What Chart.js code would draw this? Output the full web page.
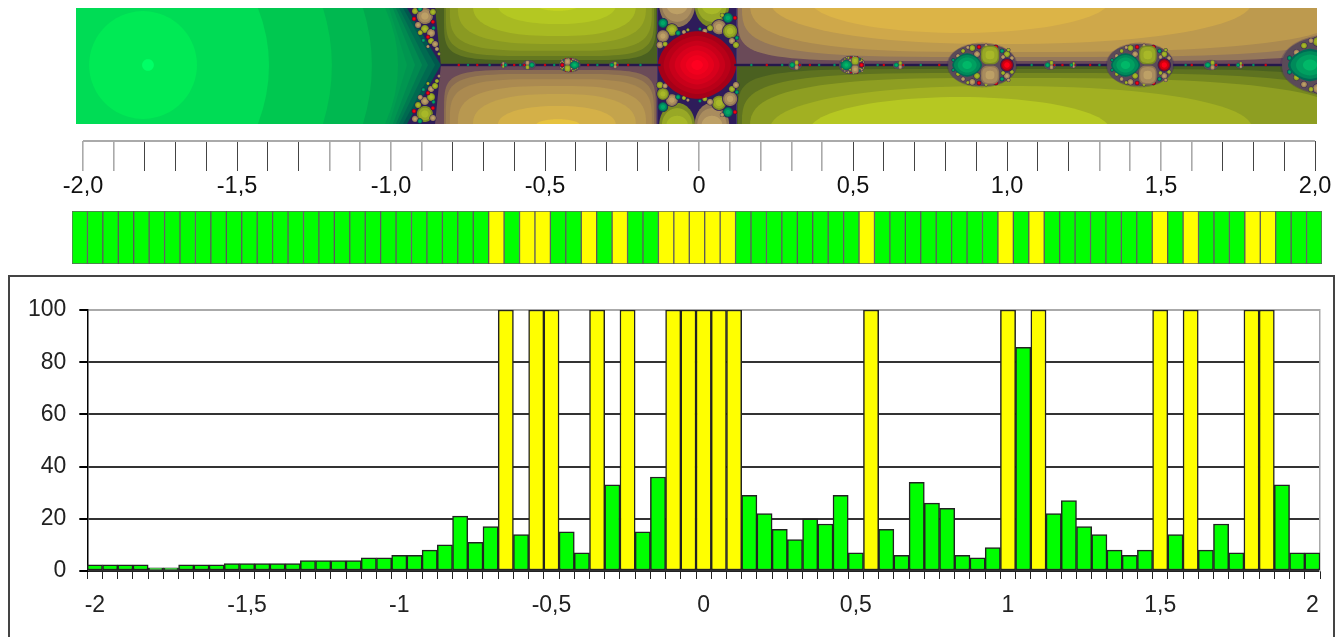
<!DOCTYPE html>
<html>
<head>
<meta charset="utf-8">
<script src="https://cdn.jsdelivr.net/npm/chart.js@4"></script>
<style>
  html, body { margin: 0; width: 1344px; height: 637px; overflow: hidden; background: #fff; }
  canvas { position: absolute; display: block; }
  #frame { position: absolute; left: 8px; top: 275px; width: 1323px; height: 420px; border: 2px solid #444; }
</style>
</head>
<body>
<div id="frame"></div>
<canvas id="fractal" width="1241" height="116" style="left:76px;top:8px"></canvas>
<canvas id="ruler" width="1344" height="75" style="left:0;top:136px"></canvas>
<canvas id="strip" width="1250" height="53" style="left:72px;top:211px"></canvas>
<canvas id="bars" width="1344" height="367" style="left:0;top:270px"></canvas>
<script>
// histogram data
const categories = [-2, -1.95, -1.9, -1.85, -1.8, -1.75, -1.7, -1.65, -1.6, -1.55, -1.5, -1.45, -1.4, -1.35, -1.3, -1.25, -1.2, -1.15, -1.1, -1.05,
  -1, -0.95, -0.9, -0.85, -0.8, -0.75, -0.7, -0.65, -0.6, -0.55, -0.5, -0.45, -0.4, -0.35, -0.3, -0.25, -0.2, -0.15, -0.1, -0.05,
  0, 0.05, 0.1, 0.15, 0.2, 0.25, 0.3, 0.35, 0.4, 0.45, 0.5, 0.55, 0.6, 0.65, 0.7, 0.75, 0.8, 0.85, 0.9, 0.95,
  1, 1.05, 1.1, 1.15, 1.2, 1.25, 1.3, 1.35, 1.4, 1.45, 1.5, 1.55, 1.6, 1.65, 1.7, 1.75, 1.8, 1.85, 1.9, 1.95, 2];
const barValues = [2.4, 2.4, 2.4, 2.4, 1.2, 1.2, 2.4, 2.4, 2.4, 2.8, 2.8, 2.8, 2.8, 2.8, 4, 4, 4, 4, 5, 5,
  6, 6, 8, 10, 21, 11, 17, 100, 14, 100, 100, 15, 7, 100, 33, 100, 15, 36, 100, 100,
  100, 100, 100, 29, 22, 16, 12, 20, 18, 29, 7, 100, 16, 6, 34, 26, 24, 6, 5, 9,
  100, 85.7, 100, 22, 27, 17, 14, 8, 6, 8, 100, 14, 100, 8, 18, 7, 100, 100, 33, 7, 7];
const barTickLabels = ['-2', '-1,5', '-1', '-0,5', '0', '0,5', '1', '1,5', '2'];
const yTicks = [0, 20, 40, 60, 80, 100];
const rulerLabels = ['-2,0', '-1,5', '-1,0', '-0,5', '0', '0,5', '1,0', '1,5', '2,0'];
const rulerLightTicks = [-20, -19, -12, -11, -10, -9, 0, 1, 2, 3, 4, 13, 14, 15, 16];

const cellColors = barValues.map(v => v >= 100 ? '#ffff00' : '#00ff00');
const labelFont = 'Arial, "Liberation Sans", sans-serif';

// fractal picture, everything in plane units (x, y up)
const planeX = [-2.0227, 2.0065];
const planeY = [-0.1916, 0.1851];

const oliveLeft = ['#4a6020', '#647820', '#7a8a20', '#8a9a22', '#9aa822', '#a8ba22', '#b4c822', '#c4d420'];
const goldLeft = ['#6a4a58', '#8a6c52', '#9c7e50', '#ab8a50', '#b89850', '#c4a44c', '#d4b048', '#e6c23e'];
const oliveRight = ['#4a6020', '#5e7220', '#76881f', '#8e9e22', '#a2b022', '#b6c822'];
const goldRight = ['#6a4a58', '#94775a', '#ab8a50', '#bd9a4e', '#cfa84a', '#dcb447'];
// rxLeft, rxRight, ry, squareness
const leftBands = [[0.370, 0.318, 0.179, 6], [0.364, 0.312, 0.166, 5], [0.351, 0.305, 0.149, 4], [0.325, 0.286, 0.127, 3], [0.276, 0.253, 0.101, 2.5], [0.195, 0.188, 0.062, 2.2], [0.071, 0.071, 0.019, 2]];
// cx, rxLeft, rxRight, ry, squareness
const rightBands = [[0.977, 0.851, 1.14, 0.198, 6], [0.977, 0.838, 1.165, 0.185, 4], [0.977, 0.812, 1.137, 0.169, 3], [0.977, 0.747, 0.82, 0.143, 2.2], [0.847, 0.487, 0.487, 0.107, 2]];

// apex x, x at the top edge, colour
const greenEdges = [[-0.838, -0.948, '#00584e'], [-0.857, -0.961, '#006a50'], [-0.880, -0.974, '#007a50'], [-0.899, -0.984, '#008a50'],
  [-0.922, -0.994, '#009650'], [-0.948, -1.006, '#009e50'], [-0.977, -1.019, '#00a84e'], [-1.062, -1.091, '#00b850'], [-1.192, -1.221, '#00c850'], [-1.396, -1.432, '#00dc55']];

const beadColors = {
  olive: ['#7a8a24', '#98a826', '#a8b828'],
  tan: ['#8f7656', '#a98c5e', '#bda066'],
  teal: ['#006a55', '#008f60', '#00a868'],
  red: ['#8a0a20', '#d00010', '#ff0018']
};
const swapKind = { olive: 'tan', tan: 'olive', teal: 'teal', red: 'red' };

// x, y, r, kind: upper half only, lower half is mirrored with olive and tan swapped
const centreBeads = [[-0.117, 0.136, 0.015, 'teal'], [-0.088, 0.114, 0.019, 'olive'], [-0.117, 0.094, 0.019, 'tan'], [-0.127, 0.065, 0.011, 'tan'],
  [-0.110, 0.068, 0.008, 'olive'], [-0.068, 0.104, 0.008, 'teal'], [-0.049, 0.107, 0.0065, 'tan'], [-0.036, 0.114, 0.005, 'olive'],
  [0.094, 0.153, 0.016, 'teal'], [0.065, 0.123, 0.023, 'tan'], [0.101, 0.110, 0.023, 'olive'], [0.107, 0.078, 0.01, 'tan'], [0.120, 0.065, 0.01, 'olive'],
  [0.123, 0.088, 0.0065, 'teal'], [0.036, 0.120, 0.01, 'olive'], [0.019, 0.110, 0.008, 'tan'], [0.003, 0.117, 0.005, 'teal'], [0.075, 0.162, 0.0065, 'olive'], [0.117, 0.153, 0.0065, 'red']];
const chainBeads = [[-0.890, 0.159, 0.026, 'tan'], [-0.922, 0.175, 0.01, 'olive'], [-0.890, 0.117, 0.013, 'olive'], [-0.870, 0.104, 0.013, 'tan'],
  [-0.912, 0.130, 0.01, 'tan'], [-0.870, 0.078, 0.01, 'olive'], [-0.857, 0.068, 0.01, 'tan'], [-0.851, 0.052, 0.0065, 'tan'], [-0.844, 0.036, 0.005, 'olive'],
  [-0.906, 0.182, 0.008, 'teal'], [-0.864, 0.140, 0.0065, 'red'], [-0.864, 0.172, 0.01, 'olive'], [-0.880, 0.091, 0.0065, 'red'],
  [-0.905, 0.105, 0.008, 'olive'], [-0.925, 0.150, 0.007, 'red'], [-0.895, 0.080, 0.006, 'teal'], [-0.880, 0.060, 0.005, 'tan'], [-0.862, 0.120, 0.006, 'teal']];
// lobes beside the red disc: x, r, kind
const centreLobes = [[-0.071, 0.058, 'tan'], [0.042, 0.056, 'olive']];
// cx, rx, ry, flipped
const clusters = [[0.919, 0.110, 0.068, false], [1.432, 0.107, 0.068, false], [2.055, 0.162, 0.094, false], [0.497, 0.042, 0.029, false],
  [-0.419, 0.034, 0.023, true], [-0.552, 0.021, 0.015, true], [-0.633, 0.011, 0.010, true], [-0.276, 0.016, 0.011, false], [0.312, 0.021, 0.016, false],
  [0.649, 0.019, 0.013, false], [1.140, 0.019, 0.015, false], [1.214, 0.011, 0.010, false], [1.662, 0.023, 0.016, false], [1.756, 0.013, 0.011, false]];
// beads of one cluster in cluster units: dx, dy, r, kind
const clusterBeads = [[-0.29, 0.81, 0.09, 'olive'], [-0.09, 0.86, 0.06, 'red'], [-0.15, 0.52, 0.09, 'tan'], [-0.56, 0.67, 0.06, 'olive'], [-0.71, 0.43, 0.06, 'tan'],
  [-0.85, 0.24, 0.045, 'teal'], [0.59, 0.67, 0.06, 'teal'], [0.735, 0.52, 0.09, 'olive'], [0.62, 0.38, 0.06, 'tan'], [0.88, 0.33, 0.06, 'tan'], [0.41, 0.86, 0.06, 'red'],
  [0.12, 0.93, 0.05, 'tan'], [-0.42, 0.84, 0.05, 'tan'], [0.78, 0.72, 0.05, 'olive']];
const axisSpecks = [[-0.78, 'red'], [-0.75, 'teal'], [-0.72, 'red'], [-0.68, 'teal'], [-0.60, 'red'], [-0.58, 'teal'], [-0.50, 'red'], [-0.47, 'teal'], [-0.36, 'red'], [-0.33, 'teal'], [-0.23, 'red'], [-0.19, 'teal'],
  [0.17, 'teal'], [0.22, 'red'], [0.27, 'teal'], [0.36, 'red'], [0.39, 'teal'], [0.44, 'teal'], [0.58, 'teal'], [0.60, 'red'], [0.72, 'teal'], [0.78, 'red'],
  [1.08, 'teal'], [1.18, 'red'], [1.27, 'red'], [1.30, 'teal'], [1.58, 'teal'], [1.60, 'red'], [1.72, 'red'], [1.80, 'teal'], [1.84, 'red']];
const darkPurple = '#2e1c5a';
const redDisc = ['#a50018', '#b80018', '#c8001a', '#d8001c', '#e6001c', '#f2001e', '#ff0020'];

// top line of the scale ruler
const rulerLine = [{ x: -2, y: 1 }, { x: 2, y: 1 }];

const fractalPainter = {
  id: 'fractalPainter',
  beforeDraw(chart) {
    const ctx = chart.ctx;
    const xs = chart.scales.x, ys = chart.scales.y;
    const X = v => xs.getPixelForValue(v), Y = v => ys.getPixelForValue(v);
    const U = (xs.right - xs.left) / (xs.max - xs.min);

    function blob(cx, cy, rxL, rxR, ry, n, fill) {
      ctx.beginPath();
      for (let i = 0; i < 96; i++) {
        const t = i / 96 * Math.PI * 2, c = Math.cos(t), s = Math.sin(t);
        const dx = Math.sign(c) * Math.pow(Math.abs(c), 2 / n) * (c >= 0 ? rxR : rxL);
        const dy = Math.sign(s) * Math.pow(Math.abs(s), 2 / n) * ry;
        ctx.lineTo(X(cx + dx), Y(cy + dy));
      }
      ctx.closePath();
      ctx.fillStyle = fill;
      ctx.fill();
    }
    function disc(x, y, r, fill) { blob(x, y, r, r, r, 2, fill); }
    function rect(x0, x1, y0, y1, fill) {
      ctx.fillStyle = fill;
      ctx.fillRect(X(x0), Y(y1), X(x1) - X(x0), Y(y0) - Y(y1));
    }
    function clipTo(x0, x1, y0, y1, draw) {
      ctx.save();
      ctx.beginPath();
      ctx.rect(X(x0), Y(y1), X(x1) - X(x0), Y(y0) - Y(y1));
      ctx.clip();
      draw();
      ctx.restore();
    }
    function bead(x, y, r, kind) {
      const c = beadColors[kind];
      disc(x, y, r * 1.12, darkPurple);
      disc(x, y, r, c[0]);
      disc(x, y, r * 0.78, c[1]);
      disc(x, y, r * 0.45, c[2]);
    }
    function mirrored(list) {
      list.forEach(b => {
        bead(b[0], b[1], b[2], b[3]);
        bead(b[0], -b[1], b[2], swapKind[b[3]]);
      });
    }

    // four big quadrants
    rect(-0.87, -0.136, 0, planeY[1], oliveLeft[0]);
    rect(-0.87, -0.136, planeY[0], 0, goldLeft[0]);
    clipTo(-0.87, -0.136, 0, planeY[1], () => leftBands.forEach((b, i) => blob(-0.458, 0.195, b[0], b[1], b[2], b[3], oliveLeft[i + 1])));
    clipTo(-0.87, -0.136, planeY[0], 0, () => leftBands.forEach((b, i) => blob(-0.458, -0.195, b[0], b[1], b[2], b[3], goldLeft[i + 1])));
    rect(0.123, planeX[1], 0, planeY[1], goldRight[0]);
    rect(0.123, planeX[1], planeY[0], 0, oliveRight[0]);
    clipTo(0.123, planeX[1], 0, planeY[1], () => rightBands.forEach((b, i) => blob(b[0], 0.211, b[1], b[2], b[3], b[4], goldRight[i + 1])));
    clipTo(0.123, planeX[1], planeY[0], 0, () => rightBands.forEach((b, i) => blob(b[0], -0.211, b[1], b[2], b[3], b[4], oliveRight[i + 1])));

    // wedge behind the bead chain
    ctx.fillStyle = darkPurple;
    ctx.beginPath();
    ctx.moveTo(X(-0.971), Y(planeY[1]));
    ctx.lineTo(X(-0.857), Y(planeY[1]));
    ctx.lineTo(X(-0.838), Y(0));
    ctx.lineTo(X(-0.857), Y(planeY[0]));
    ctx.lineTo(X(-0.971), Y(planeY[0]));
    ctx.closePath();
    ctx.fill();

    // green basin on the left
    rect(planeX[0], -1.3, planeY[0], planeY[1], '#00e055');
    greenEdges.forEach((e, i) => {
      ctx.fillStyle = e[2];
      ctx.beginPath();
      ctx.moveTo(X(planeX[0]), Y(planeY[1]));
      ctx.lineTo(X(e[1]), Y(planeY[1]));
      if (i < 6) ctx.lineTo(X(e[0]), Y(0));
      else ctx.quadraticCurveTo(X(2 * e[0] - e[1]), Y(0), X(e[1]), Y(planeY[0]));
      ctx.lineTo(X(e[1]), Y(planeY[0]));
      ctx.lineTo(X(planeX[0]), Y(planeY[0]));
      ctx.closePath();
      ctx.fill();
    });
    disc(-1.805, 0, 0.175, '#00ea55');
    disc(-1.789, 0, 0.019, '#00ff66');
    mirrored(chainBeads);

    // middle block with its lobes and the red disc
    rect(-0.136, 0.123, planeY[0], planeY[1], darkPurple);
    centreLobes.forEach(l => {
      [[l[2], 0.195], [swapKind[l[2]], -0.195]].forEach(p => {
        const c = beadColors[p[0]];
        clipTo(-0.136, 0.123, planeY[0], planeY[1], () => {
          blob(l[0], p[1], l[1], l[1], 0.072, 2, c[0]);
          blob(l[0], p[1], l[1] * 0.85, l[1] * 0.85, 0.055, 2, c[1]);
          blob(l[0], p[1], l[1] * 0.6, l[1] * 0.6, 0.03, 2, c[2]);
        });
      });
    });
    mirrored(centreBeads);
    redDisc.forEach((c, i) => {
      const f = 1 - i * 0.142;
      blob(-0.006, 0, 0.127 * f, 0.127 * f, 0.110 * f, 1.8, c);
    });

    // line along the real axis
    rect(-0.838, -0.125, -0.005, 0.005, 'rgba(46,28,90,0.45)');
    rect(0.115, planeX[1], -0.005, 0.005, 'rgba(46,28,90,0.45)');
    rect(-0.838, -0.125, -0.003, 0.003, '#24164c');
    rect(0.115, planeX[1], -0.003, 0.003, '#24164c');
    axisSpecks.forEach(s => disc(s[0], 0, 0.004, beadColors[s[1]][1]));

    // bulb clusters on the axis
    clusters.forEach(c => {
      const cx = c[0], rx = c[1], ry = c[2], dir = c[3] ? -1 : 1;
      const top = c[3] ? 'tan' : 'olive', bottom = c[3] ? 'olive' : 'tan';
      blob(cx, 0, rx * 1.04, rx * 1.04, ry * 1.07, 2, 'rgba(60,40,100,0.3)');
      blob(cx, 0, rx, rx, ry, 2.2, '#5a4a58');
      if (rx * U > 8) {
        clusterBeads.forEach(b => {
          const k = c[3] ? swapKind[b[3]] : b[3];
          bead(cx + dir * b[0] * rx, b[1] * ry, b[2] * rx, k);
          bead(cx + dir * b[0] * rx, -b[1] * ry, b[2] * rx, swapKind[k]);
        });
      }
      [[top, 1], [bottom, -1]].forEach(p => {
        const col = beadColors[p[0]];
        const bx = cx + dir * 0.235 * rx, by = p[1] * 0.48 * ry;
        blob(bx, by, rx * 0.27, rx * 0.27, ry * 0.45, 3, col[0]);
        blob(bx, by, rx * 0.23, rx * 0.23, ry * 0.38, 3, col[1]);
        blob(bx, by, rx * 0.13, rx * 0.13, ry * 0.2, 3, col[2]);
      });
      const lx = cx - dir * 0.44 * rx;
      blob(lx, 0, rx * 0.44, rx * 0.44, ry * 0.56, 1.65, '#006a55');
      blob(lx, 0, rx * 0.39, rx * 0.39, ry * 0.48, 1.75, '#008a5a');
      blob(lx, 0, rx * 0.28, rx * 0.28, ry * 0.36, 1.9, '#00a060');
      blob(lx, 0, rx * 0.14, rx * 0.14, ry * 0.19, 2, '#00b868');
      bead(cx + dir * 0.735 * rx, 0, 0.18 * rx, 'red');
    });
  }
};

new Chart(document.getElementById('fractal'), {
  type: 'scatter',
  data: { datasets: [] },
  options: {
    responsive: false,
    animation: false,
    layout: { padding: 0 },
    plugins: { legend: { display: false }, tooltip: { enabled: false } },
    scales: {
      x: { type: 'linear', display: false, min: planeX[0], max: planeX[1] },
      y: { type: 'linear', display: false, min: planeY[0], max: planeY[1] }
    }
  },
  plugins: [fractalPainter]
});

// scale ruler
new Chart(document.getElementById('ruler'), {
  type: 'line',
  data: {
    datasets: [{ data: rulerLine, borderColor: '#aaa', borderWidth: 2, pointRadius: 0, clip: false }]
  },
  options: {
    responsive: false,
    animation: false,
    layout: { padding: { left: 83, right: 29, top: 5, bottom: 0 } },
    plugins: { legend: { display: false }, tooltip: { enabled: false } },
    scales: {
      x: {
        type: 'linear', min: -2, max: 2,
        afterFit: s => { s.height = 40; },
        border: { display: false },
        grid: {
          drawTicks: false,
          color: c => rulerLightTicks.includes(Math.round(c.tick.value * 10)) ? '#aaa' : '#444',
          lineWidth: c => rulerLightTicks.includes(Math.round(c.tick.value * 10)) ? 1.6 : 1
        },
        ticks: {
          stepSize: 0.1, autoSkip: false, maxRotation: 0, padding: 1, color: '#111',
          font: { family: labelFont, size: 23.5 },
          callback: v => {
            const n = Math.round(v * 10);
            return n % 5 === 0 ? rulerLabels[(n + 20) / 5] : '';
          }
        }
      },
      y: { display: false, min: 0, max: 1 }
    }
  }
});

// colour strip, one cell per category
new Chart(document.getElementById('strip'), {
  type: 'bar',
  data: {
    labels: categories,
    datasets: [{
      data: categories.map(() => 1),
      backgroundColor: cellColors,
      borderColor: 'rgba(70,70,70,0.85)',
      borderWidth: 1,
      borderSkipped: false,
      barPercentage: 1,
      categoryPercentage: 1
    }]
  },
  options: {
    responsive: false,
    animation: false,
    layout: { padding: 0 },
    plugins: { legend: { display: false }, tooltip: { enabled: false } },
    scales: { x: { display: false }, y: { display: false, min: 0, max: 1 } }
  }
});

// histogram
new Chart(document.getElementById('bars'), {
  type: 'bar',
  data: {
    labels: categories,
    datasets: [{
      data: barValues,
      backgroundColor: cellColors,
      borderColor: '#222',
      borderWidth: 1.5,
      borderSkipped: false,
      barPercentage: 1,
      categoryPercentage: 1
    }]
  },
  options: {
    responsive: false,
    animation: false,
    layout: { padding: { left: 0, right: 24, top: 40, bottom: 0 } },
    plugins: { legend: { display: false }, tooltip: { enabled: false } },
    scales: {
      x: {
        afterFit: s => { s.height = 66; },
        border: { color: '#222', width: 1 },
        grid: { offset: true, drawOnChartArea: false, tickLength: 8, color: '#222', lineWidth: 1 },
        ticks: {
          autoSkip: false, maxRotation: 0, padding: 13, color: '#222',
          font: { family: labelFont, size: 23 },
          callback: (v, i) => i % 10 === 0 ? barTickLabels[i / 10] : ''
        }
      },
      y: {
        min: 0, max: 100,
        afterFit: s => { s.width = 87.3; },
        afterBuildTicks: s => { s.ticks = yTicks.map(v => ({ value: v })); },
        border: { color: '#000', width: 1.5 },
        grid: {
          tickLength: 8, tickColor: '#000', lineWidth: 2,
          color: c => c.tick.value === 100 ? '#aaa' : '#333'
        },
        ticks: { padding: 13, color: '#222', font: { family: labelFont, size: 23 } }
      },
      y2: {
        position: 'right', min: 0, max: 100,
        afterFit: s => { s.width = 0; },
        border: { color: '#aaa', width: 1.5 },
        grid: { drawOnChartArea: false, drawTicks: false },
        ticks: { display: false }
      }
    }
  }
});
</script>
</body>
</html>
